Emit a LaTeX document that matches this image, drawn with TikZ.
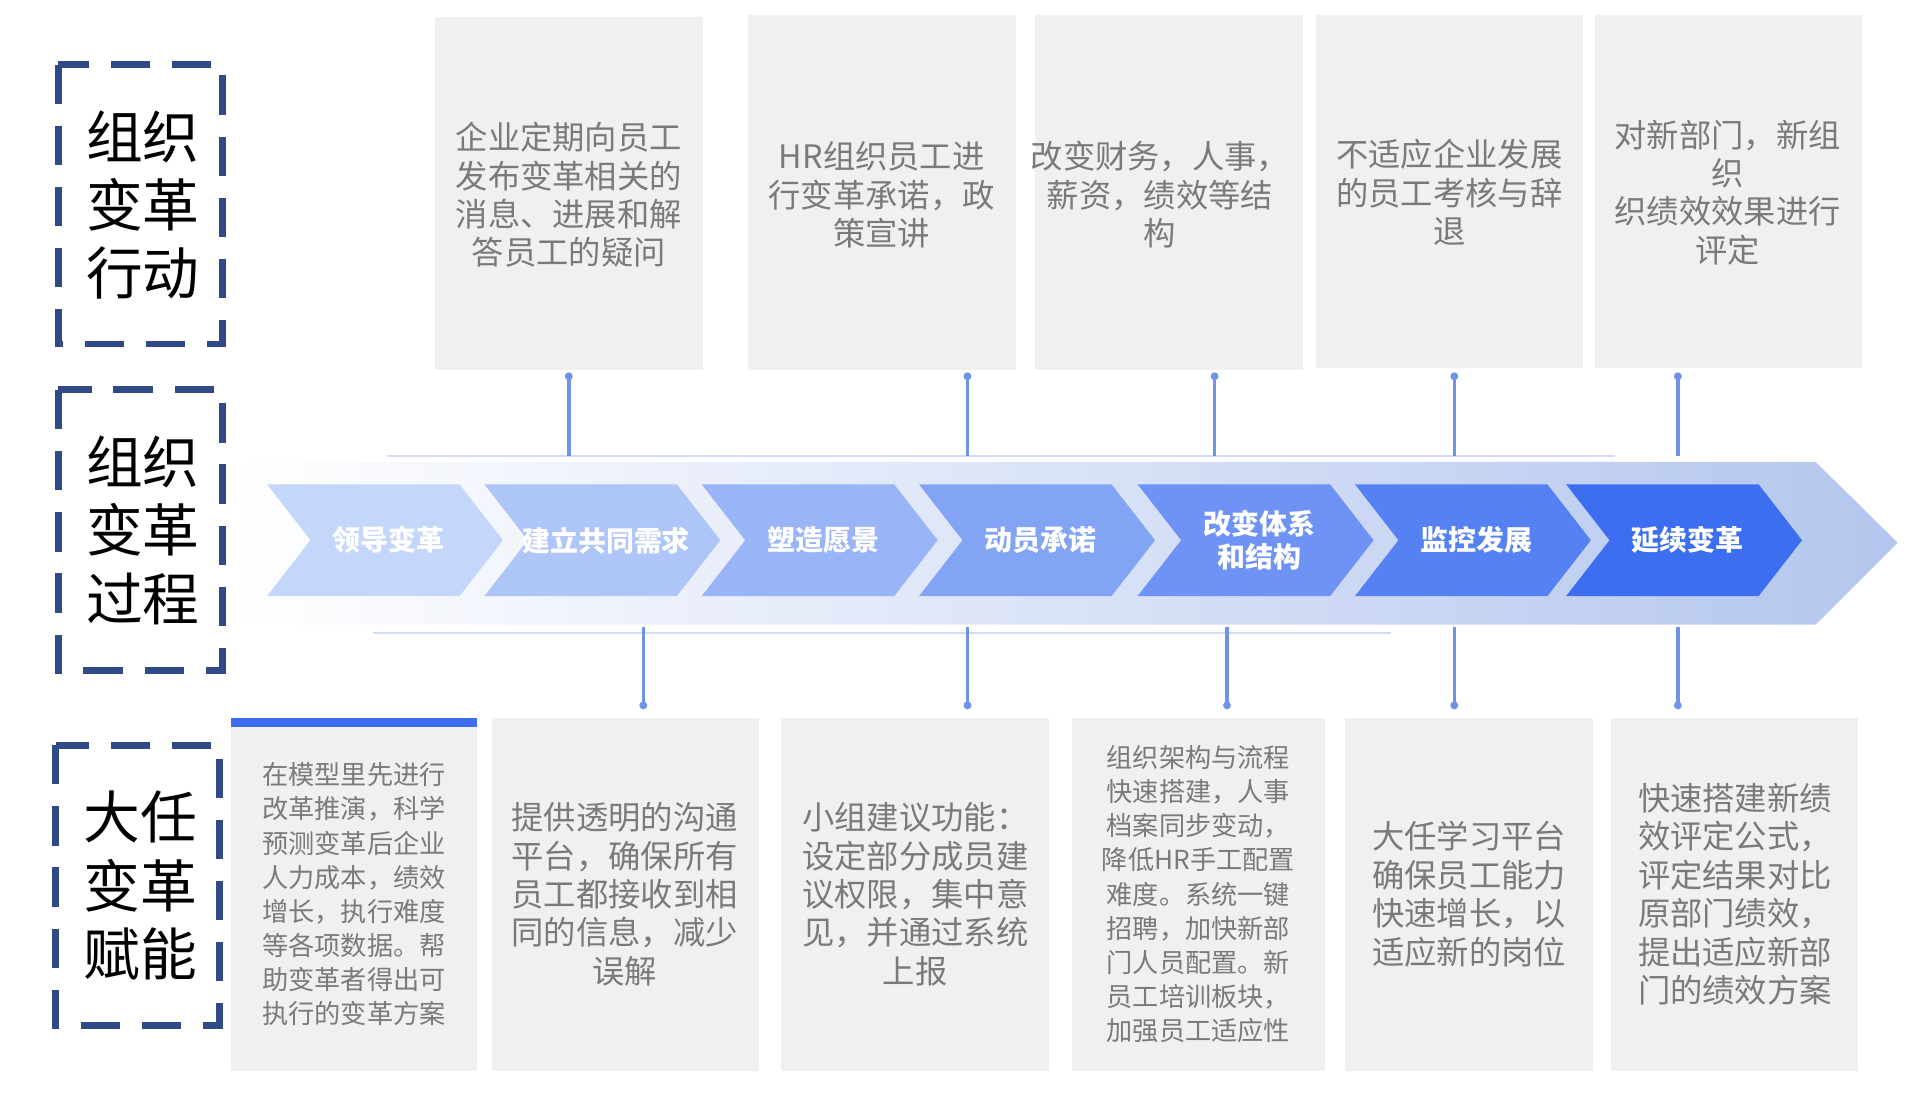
\documentclass[tikz,border=0pt]{standalone}
\usepackage{fontspec}
\setmainfont{Noto Sans CJK SC}
\usepackage{xcolor}
\usetikzlibrary{arrows.meta, calc}
\definecolor{frameblue}{HTML}{2F4A87}
\definecolor{linkblue}{HTML}{6F93E6}
\definecolor{boxgray}{HTML}{F0F0F0}
\definecolor{textgray}{HTML}{7A7A7A}
\definecolor{trackblue}{HTML}{B4C6EE}
\definecolor{stepblue}{HTML}{3D6EF0}
\definecolor{steplight}{HTML}{C4D6FA}

\begin{document}
\begin{tikzpicture}[x=0.01cm, y=-0.01cm, >=Stealth,
  framebox/.style={draw=frameblue, line width=1.6pt, dash pattern=on 9pt off 5pt},
  frametext/.style={font=\fontsize{13}{15.6}\selectfont, align=center, text=black},
  infobox/.style={fill=boxgray},
  infotext/.style={font=\fontsize{7.4}{8.8}\selectfont, align=center, text=textgray},
  smalltext/.style={font=\fontsize{6}{7.8}\selectfont, align=center, text=textgray},
  steptext/.style={font=\fontsize{6.4}{7.4}\selectfont\bfseries, align=center, text=white},
  link/.style={draw=linkblue, line width=0.8pt},
  dot/.style={fill=linkblue}]

% === Drawing region ===
\useasboundingbox (0,0) rectangle (1546,880);

% === Left frames ===
\draw[framebox] (47,52) rectangle (179,277);
\node[frametext] (actT) at (115,165) {组织\\变革\\行动};
\draw[framebox] (47,314) rectangle (179,540);
\node[frametext] (procT) at (115,427) {组织\\变革\\过程};
\draw[framebox] (45,600) rectangle (177,826);
\node[frametext] (powT) at (113,713) {大任\\变革\\赋能};

% === Top boxes ===
\fill[infobox] (350,14) rectangle (566,298);
\fill[infobox] (602,12) rectangle (818,298);
\fill[infobox] (833,12) rectangle (1049,298);
\fill[infobox] (1060,12) rectangle (1275,296);
\fill[infobox] (1284,12) rectangle (1499,296);
\node[infotext] (top1) at (458,157) {企业定期向员工\\发布变革相关的\\消息、进展和解\\答员工的疑问};
\node[infotext] (top2) at (710,157) {HR组织员工进\\行变革承诺，政\\策宣讲};
\node[infotext] (top3) at (934,157) {改变财务，人事，\\薪资，绩效等结\\构};
\node[infotext] (top4) at (1167,155) {不适应企业发展\\的员工考核与辞\\退};
\node[infotext] (top5) at (1391,155) {对新部门，新组\\织\\织绩效效果进行\\评定};

% === Track ===
\shade[left color=white, right color=trackblue]
  (185,372) -- (1462,372) -- (1528,437) -- (1462,503) -- (185,503) -- cycle;
\draw[trackblue!60, line width=0.5pt] (312,367) -- (1300,367);
\draw[trackblue!60, line width=0.5pt] (300,510) -- (1120,510);

% === Chevrons ===
\foreach \cx/\tint/\name/\txt in {
  313/0/s1/领导变革, 488/16/s2/建立共同需求, 663/32/s3/塑造愿景,
  838/48/s4/动员承诺, 1014/64/s5/{改变体系\\和结构}, 1189/82/s6/监控发展,
  1359/100/s7/延续变革}{
  \fill[stepblue!\tint!steplight]
    (\cx-98,390) -- (\cx+57,390) -- (\cx+92,435) -- (\cx+57,480) -- (\cx-98,480) -- (\cx-63,435) -- cycle;
  \node[steptext] (\name) at (\cx,435) {\txt};
}

% === Top connectors ===
\foreach \lx/\lname in {458/a, 779/b, 978/c, 1171/d, 1351/e}{
  \coordinate (up\lname) at (\lx,303);
  \coordinate (dn\lname) at (\lx,367);
  \draw[link] (up\lname) -- (dn\lname);
  \fill[dot] (up\lname) circle (3.2);
}

% === Bottom connectors ===
\foreach \lx/\lname in {518/a, 779/b, 988/c, 1171/d, 1351/e}{
  \coordinate (bt\lname) at (\lx,505);
  \coordinate (bb\lname) at (\lx,568);
  \draw[link] (bt\lname) -- (bb\lname);
  \fill[dot] (bb\lname) circle (3.2);
}

% === Bottom boxes ===
\fill[infobox] (186,578) rectangle (384,862);
\fill[stepblue] (186,578) rectangle (384,585);
\fill[infobox] (396,578) rectangle (611,862);
\fill[infobox] (629,578) rectangle (845,862);
\fill[infobox] (863,578) rectangle (1067,862);
\fill[infobox] (1083,578) rectangle (1283,862);
\fill[infobox] (1297,578) rectangle (1496,862);
\node[smalltext] (bot1) at (285,720) {在模型里先进行\\改革推演，科学\\预测变革后企业\\人力成本，绩效\\增长，执行难度\\等各项数据。帮\\助变革者得出可\\执行的变革方案};
\node[infotext] (bot2) at (503,720) {提供透明的沟通\\平台，确保所有\\员工都接收到相\\同的信息，减少\\误解};
\node[infotext] (bot3) at (737,720) {小组建议功能：\\设定部分成员建\\议权限，集中意\\见，并通过系统\\上报};
\node[smalltext] (bot4) at (965,720) {组织架构与流程\\快速搭建，人事\\档案同步变动，\\降低HR手工配置\\难度。系统一键\\招聘，加快新部\\门人员配置。新\\员工培训板块，\\加强员工适应性};
\node[infotext] (bot5) at (1183,720) {大任学习平台\\确保员工能力\\快速增长，以\\适应新的岗位};
\node[infotext] (bot6) at (1397,720) {快速搭建新绩\\效评定公式，\\评定结果对比\\原部门绩效，\\提出适应新部\\门的绩效方案};

\end{tikzpicture}
\end{document}
